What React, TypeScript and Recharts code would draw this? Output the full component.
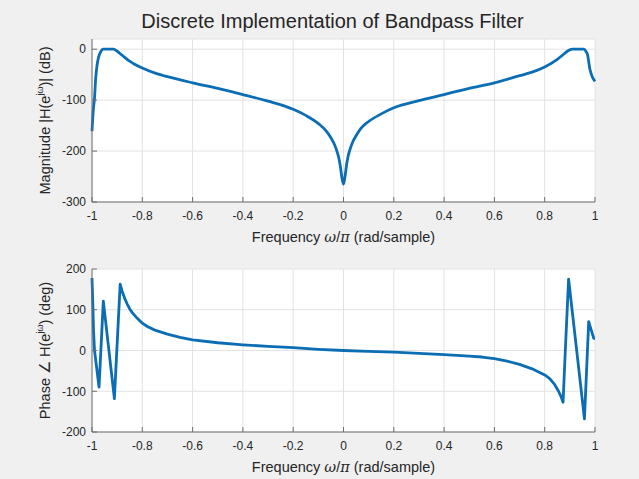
import { LineChart, Line, XAxis, YAxis, CartesianGrid } from 'recharts'

// values
const freqTicks = [-1, -0.8, -0.6, -0.4, -0.2, 0, 0.2, 0.4, 0.6, 0.8, 1]
const magTicks = [-300, -200, -100, 0]
const phaseTicks = [-200, -100, 0, 100, 200]

const magFreq = [
  -1, -0.995, -0.99, -0.985, -0.98, -0.975, -0.97, -0.963, -0.955, -0.93, -0.915, -0.9, -0.885,
  -0.87, -0.855, -0.836, -0.8, -0.743, -0.7, -0.6, -0.5, -0.4, -0.3, -0.2, -0.15, -0.1, -0.07,
  -0.05, -0.035, -0.025, -0.018, -0.0125, -0.006, 0, 0.006, 0.0125, 0.018, 0.025, 0.035, 0.05,
  0.07, 0.1, 0.15, 0.2, 0.3, 0.4, 0.5, 0.6, 0.7, 0.75, 0.8, 0.85, 0.875, 0.89, 0.91, 0.955,
  0.965, 0.97, 0.98, 0.99, 1,
]
const magDb = [
  -161, -120, -96, -55, -32, -18, -10, -3, 0, 0, 0, -4, -10,
  -16, -22, -28, -37, -48, -54, -66, -77, -89, -102, -118, -130, -146, -160,
  -174, -188, -202, -215, -230, -253, -265, -250, -226, -211, -198, -184, -170,
  -155, -142, -127, -115, -101, -89, -77, -66, -52, -45, -35, -20, -10, -4, 0, 0,
  -5, -10, -40, -55, -63,
]

const phaseFreq = [
  -1, -0.997, -0.994, -0.99, -0.972, -0.955, -0.911, -0.888, -0.88, -0.87, -0.86, -0.85, -0.84,
  -0.82, -0.8, -0.78, -0.75, -0.7, -0.65, -0.6, -0.5, -0.4, -0.3, -0.2, -0.1, 0, 0.1, 0.2, 0.3,
  0.4, 0.5, 0.55, 0.6, 0.65, 0.7, 0.75, 0.8, 0.82, 0.84, 0.855, 0.865, 0.873, 0.882, 0.895, 0.958,
  0.975, 0.985, 0.995, 1,
]
const phaseDeg = [
  178, 120, 50, 0, -90, 121, -118, 163, 145, 128, 114, 102, 93,
  79, 67, 59, 50, 40, 32, 26, 19, 14, 10, 7, 3, 0, -2, -4, -7,
  -10, -14, -16, -20, -26, -34, -45, -60, -69, -84, -100, -113, -127, 0, 175, -168,
  71, 50, 30, 30,
]

const magData = magFreq.map((f, i) => ({ f, v: magDb[i] }))
const phaseData = phaseFreq.map((f, i) => ({ f, v: phaseDeg[i] }))

const FONT = '"Liberation Sans", Arial, Helvetica, sans-serif'
const TEXT = '#262626'
const AXIS = '#6e6e6e'
const GRID = '#e2e2e2'
const BLUE = '#0b6db4'

function FreqLabel(props: any) {
  const vb = props.viewBox || { x: 92, y: 202, width: 503 }
  return (
    <text x={vb.x + vb.width / 2} y={vb.y + 40} textAnchor="middle" fontSize={14.5} fill={TEXT} fontFamily={FONT}>
      {'Frequency '}
      <tspan fontFamily="'DejaVu Serif', serif" fontStyle="italic">ω</tspan>
      {'/'}
      <tspan fontFamily="'DejaVu Serif', serif" fontStyle="italic">π</tspan>
      {' (rad/sample)'}
    </text>
  )
}

function SideLabel(props: any) {
  const vb = props.viewBox || { x: 52, y: 39, width: 40, height: 163 }
  const cy = vb.y + vb.height / 2
  return (
    <text
      transform={`translate(45,${cy}) rotate(-90)`}
      textAnchor="middle"
      dominantBaseline="central"
      fontSize={14.5}
      fill={TEXT}
      fontFamily={FONT}
    >
      {props.pre}
      <tspan fontSize={9} dy={-5}>jω</tspan>
      <tspan dy={5}>{props.post}</tspan>
    </text>
  )
}

function Panel(props: { data: any[]; ticks: number[]; domain: [number, number]; pre: string; post: string; smooth: boolean }) {
  return (
    <LineChart width={639} height={250} data={props.data} margin={{ top: 39, right: 44, bottom: 18, left: 52 }}>
      <CartesianGrid fill="#ffffff" stroke={GRID} />
      <XAxis
        dataKey="f"
        type="number"
        domain={[-1, 1]}
        ticks={freqTicks}
        interval={0}
        height={30}
        tickSize={-5}
        tickMargin={14}
        stroke={AXIS}
        tick={{ fontSize: 12, fill: TEXT, fontFamily: FONT }}
        label={<FreqLabel />}
      />
      <XAxis
        xAxisId="top"
        orientation="top"
        dataKey="f"
        type="number"
        domain={[-1, 1]}
        ticks={freqTicks}
        interval={0}
        height={0}
        tickSize={-5}
        stroke={AXIS}
        tick={false}
      />
      <YAxis
        type="number"
        domain={props.domain}
        ticks={props.ticks}
        interval={0}
        width={40}
        tickSize={-5}
        tickMargin={11}
        stroke={AXIS}
        tick={{ fontSize: 12, fill: TEXT, fontFamily: FONT }}
        label={<SideLabel pre={props.pre} post={props.post} />}
      />
      <YAxis
        yAxisId="right"
        orientation="right"
        type="number"
        domain={props.domain}
        ticks={props.ticks}
        interval={0}
        width={0}
        tickSize={-5}
        stroke={AXIS}
        tick={false}
      />
      <Line
        type={props.smooth ? 'monotone' : 'linear'}
        dataKey="v"
        stroke={BLUE}
        strokeWidth={2.8}
        strokeLinejoin="round"
        dot={false}
        isAnimationActive={false}
      />
    </LineChart>
  )
}

export default function App() {
  return (
    <div style={{ position: 'fixed', left: 0, top: 0, width: 639, height: 479, background: '#f0f0f0', overflow: 'hidden' }}>
      <div
        style={{
          position: 'absolute',
          left: 81,
          top: 9,
          width: 503,
          textAlign: 'center',
          fontSize: 20,
          fontFamily: FONT,
          color: TEXT,
          lineHeight: '24px',
        }}
      >
        Discrete Implementation of Bandpass Filter
      </div>
      <div style={{ position: 'absolute', left: 0, top: 0 }}>
        <Panel data={magData} ticks={magTicks} domain={[-300, 20]} pre="Magnitude |H(e" post=")| (dB)" smooth />
      </div>
      <div style={{ position: 'absolute', left: 0, top: 230 }}>
        <Panel data={phaseData} ticks={phaseTicks} domain={[-200, 200]} pre="Phase  ∠ H(e" post=") (deg)" smooth={false} />
      </div>
    </div>
  )
}
